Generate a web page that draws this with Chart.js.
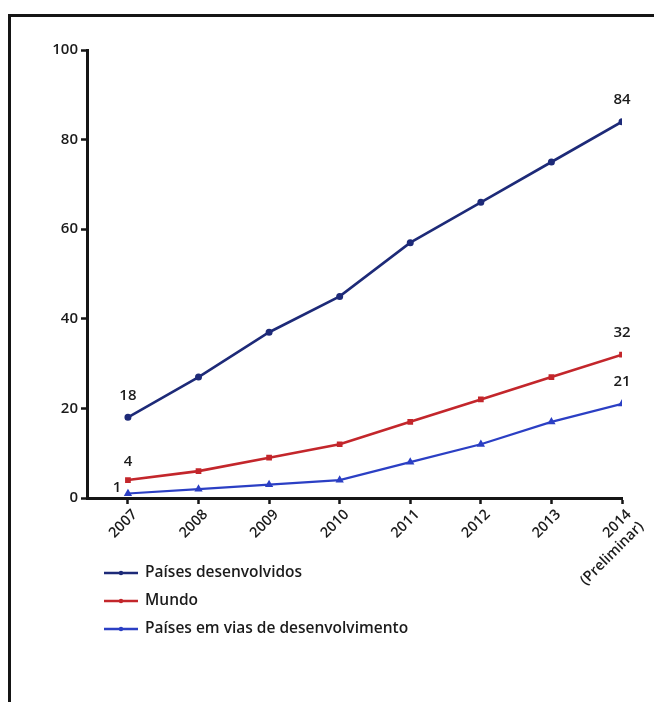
<!DOCTYPE html>
<html>
<head>
<meta charset="utf-8">
<script src="https://cdn.jsdelivr.net/npm/chart.js@4.4.1/dist/chart.umd.min.js"></script>
<style>
  html, body { margin: 0; padding: 0; background: #ffffff; }
  #wrap { position: relative; width: 654px; height: 702px; overflow: hidden; }
  #frame { position: absolute; left: 8px; top: 14px; width: 700px; height: 720px;
           border-top: 3px solid #151515; border-left: 3px solid #151515; }
  canvas { position: absolute; left: 0; top: 0; }
</style>
</head>
<body>
<div id="wrap">
  <div id="frame"></div>
  <canvas id="c" width="654" height="702"></canvas>
</div>
<script>
// Years on the x axis (the last one is a preliminary estimate)
const years = ['2007', '2008', '2009', '2010', '2011', '2012', '2013', ['2014', '(Preliminar)']];

// Series values, one per year
const desenvolvidos = [18, 27, 37, 45, 57, 66, 75, 84];
const mundo = [4, 6, 9, 12, 17, 22, 27, 32];
const emDesenvolvimento = [1, 2, 3, 4, 8, 12, 17, 21];

// Series names
const seriesNames = ['Países desenvolvidos', 'Mundo', 'Países em vias de desenvolvimento'];

// Y axis ticks
const yTicks = [0, 20, 40, 60, 80, 100];

// Points that carry a value label (first and last year)
const labelledPoints = [0, 7];

const FONT = "'Open Sans', 'Liberation Sans', sans-serif";
const INK = '#1b1b1b';

function toXY(values) {
  return values.map((v, i) => ({ x: i, y: v }));
}

// Value labels at the start and end of each line
const valueLabels = {
  id: 'valueLabels',
  afterDatasetsDraw(chart) {
    const ctx = chart.ctx;
    ctx.save();
    ctx.font = '600 15px ' + FONT;
    ctx.fillStyle = INK;
    ctx.textAlign = 'center';
    ctx.textBaseline = 'middle';
    chart.data.datasets.forEach((ds, di) => {
      const meta = chart.getDatasetMeta(di);
      labelledPoints.forEach(idx => {
        const pt = meta.data[idx];
        const v = ds.data[idx].y;
        if (di === 2 && idx === 0) {
          ctx.fillText(String(v), pt.x - 11, pt.y - 6);
        } else {
          const up = (di === 1 && idx === 0) ? 18 : 22;
          ctx.fillText(String(v), pt.x, pt.y - up);
        }
      });
    });
    ctx.restore();
  }
};

// Stacked legend below the axis, bottom left
const stackedLegend = {
  id: 'stackedLegend',
  afterDraw(chart) {
    const ctx = chart.ctx;
    ctx.save();
    ctx.font = '600 15.5px ' + FONT;
    ctx.textBaseline = 'middle';
    ctx.textAlign = 'left';
    chart.data.datasets.forEach((ds, i) => {
      const y = 573 + i * 28;
      ctx.strokeStyle = ds.borderColor;
      ctx.lineWidth = 2.5;
      ctx.beginPath();
      ctx.moveTo(104, y);
      ctx.lineTo(138, y);
      ctx.stroke();
      ctx.fillStyle = ds.borderColor;
      ctx.beginPath();
      ctx.arc(121, y, 2.2, 0, Math.PI * 2);
      ctx.fill();
      ctx.fillStyle = INK;
      ctx.fillText(ds.label, 145, y);
    });
    ctx.restore();
  }
};

new Chart(document.getElementById('c'), {
  type: 'line',
  data: {
    datasets: [
      {
        label: seriesNames[0],
        data: toXY(desenvolvidos),
        borderColor: '#1d2a78',
        backgroundColor: '#1d2a78',
        borderWidth: 2.6,
        pointRadius: 2.2,
        pointStyle: 'circle',
        tension: 0
      },
      {
        label: seriesNames[1],
        data: toXY(mundo),
        borderColor: '#c3262b',
        backgroundColor: '#c3262b',
        borderWidth: 2.6,
        pointRadius: 2.2,
        pointStyle: 'rect',
        tension: 0
      },
      {
        label: seriesNames[2],
        data: toXY(emDesenvolvimento),
        borderColor: '#2b3fc4',
        backgroundColor: '#2b3fc4',
        borderWidth: 2.2,
        pointRadius: 2.6,
        pointStyle: 'triangle',
        tension: 0
      }
    ]
  },
  options: {
    responsive: false,
    animation: false,
    devicePixelRatio: 1,
    layout: { padding: { left: 0, top: 50, right: 32, bottom: 0 } },
    plugins: {
      legend: { display: false },
      tooltip: { enabled: false }
    },
    scales: {
      x: {
        type: 'linear',
        min: -0.58,
        max: years.length - 1,
        afterFit(s) { s.height = 204; },
        afterBuildTicks(s) { s.ticks = years.map((_, i) => ({ value: i })); },
        border: { display: true, color: '#151515', width: 3 },
        grid: { display: true, drawOnChartArea: false, drawTicks: true, tickLength: 6, tickColor: '#151515', tickWidth: 2.5 },
        ticks: {
          autoSkip: false,
          minRotation: 45,
          maxRotation: 45,
          padding: 2,
          labelOffset: 7,
          color: INK,
          font: { family: FONT, size: 14.5, weight: '600' },
          callback(v) { return years[v]; }
        }
      },
      y: {
        min: 0,
        max: 100,
        afterFit(s) { s.width = 87; },
        afterBuildTicks(s) { s.ticks = yTicks.map(v => ({ value: v })); },
        border: { display: true, color: '#151515', width: 3 },
        grid: { display: true, drawOnChartArea: false, drawTicks: true, tickLength: 6, tickColor: '#151515', tickWidth: 2.5 },
        ticks: {
          padding: 3,
          color: INK,
          font: { family: FONT, size: 15, weight: '600' }
        }
      }
    }
  },
  plugins: [valueLabels, stackedLegend]
});
</script>
</body>
</html>
